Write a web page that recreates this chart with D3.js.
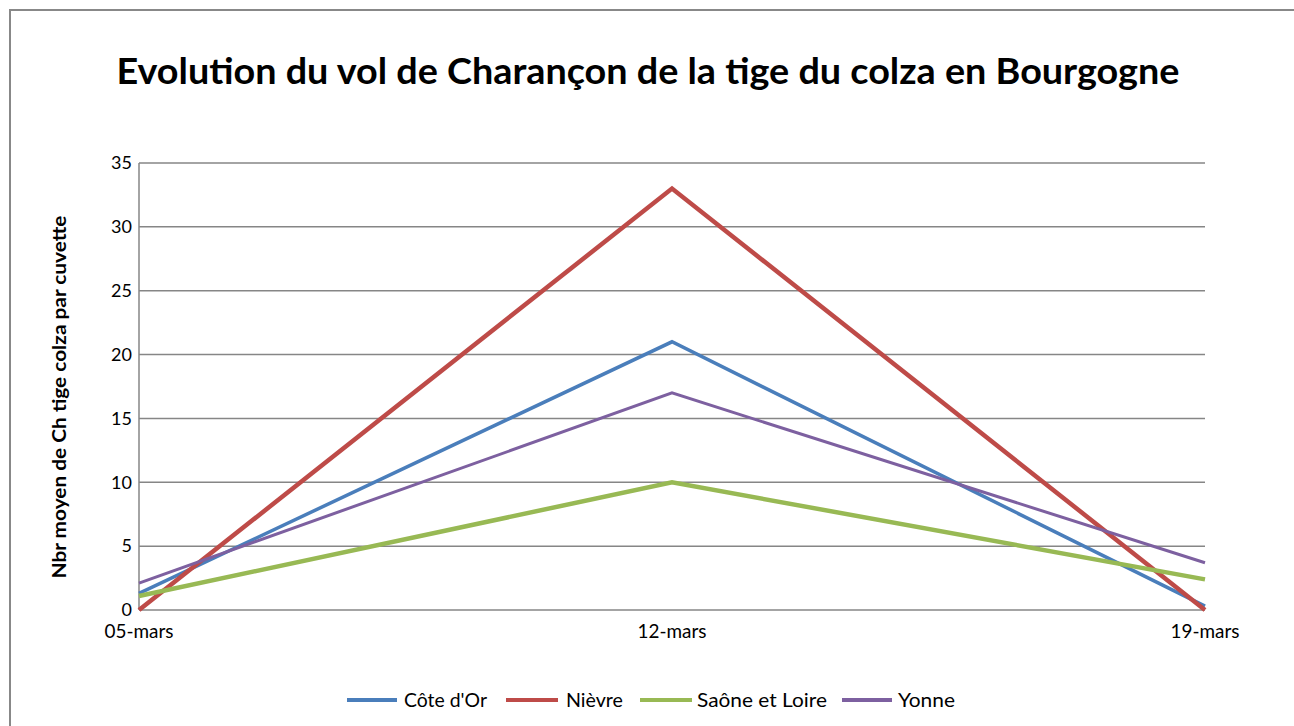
<!DOCTYPE html>
<html><head><meta charset="utf-8">
<script src="https://cdn.jsdelivr.net/npm/d3@7"></script>
<style>body{margin:0;background:#fff}svg{display:block}</style>
</head><body>
<svg id="c" width="1294" height="726"></svg>
<script>
const categories = ["05-mars", "12-mars", "19-mars"];
const seriesNames = ["Côte d'Or", "Nièvre", "Saône et Loire", "Yonne"];
const coteDOr = [1.3, 21, 0.3];
const nievre = [0, 33, 0];
const saone = [1.1, 10, 2.4];
const yonne = [2.1, 17, 3.7];
const yTicks = [0, 5, 10, 15, 20, 25, 30, 35];
const colors = ["#4A7EBB", "#BE4B48", "#98B954", "#7D60A0"];
const widths = [3.5, 4.5, 4.5, 3];

const series = [coteDOr, nievre, saone, yonne].map((v, i) => ({name: seriesNames[i], values: v, color: colors[i], w: widths[i]}));

const svg = d3.select("#c");
const font = "Lato, 'Open Sans', sans-serif";
svg.append("rect").attr("x", 10).attr("y", 10).attr("width", 1300).attr("height", 730)
  .attr("fill", "#fff").attr("stroke", "#888").attr("stroke-width", 2);

svg.append("text").attr("x", 648).attr("y", 84).attr("text-anchor", "middle")
  .attr("font-family", font).attr("font-weight", "bold").attr("font-size", 37)
  .attr("textLength", 1063).attr("lengthAdjust", "spacingAndGlyphs")
  .attr("fill", "#000").text("Evolution du vol de Charançon de la tige du colza en Bourgogne");

const x = d3.scalePoint().domain(categories).range([139, 1205]);
const y = d3.scaleLinear().domain([0, 35]).range([610, 163]);

const g = svg.append("g");
g.selectAll("line.grid").data(yTicks).join("line")
  .attr("x1", 139).attr("x2", 1205).attr("y1", d => y(d)).attr("y2", d => y(d))
  .attr("stroke", "#868686").attr("stroke-width", 1.5);
g.append("line").attr("x1", 139).attr("x2", 139).attr("y1", y(35)).attr("y2", y(0))
  .attr("stroke", "#868686").attr("stroke-width", 1.5);

g.selectAll("text.yt").data(yTicks).join("text")
  .attr("x", 132).attr("y", d => y(d)).attr("dy", "0.35em").attr("text-anchor", "end")
  .attr("font-family", font).attr("font-size", 18).attr("fill", "#000").text(d => d);
g.selectAll("text.xt").data(categories).join("text")
  .attr("x", d => x(d)).attr("y", 631).attr("dy", "0.35em").attr("text-anchor", "middle")
  .attr("font-family", font).attr("font-size", 19).attr("textLength", 69).attr("lengthAdjust", "spacingAndGlyphs")
  .attr("fill", "#000").text(d => d);

svg.append("text").attr("transform", "translate(66,397) rotate(-90)").attr("text-anchor", "middle")
  .attr("font-family", font).attr("font-weight", "bold").attr("font-size", 19)
  .attr("textLength", 363).attr("lengthAdjust", "spacingAndGlyphs").attr("fill", "#000")
  .text("Nbr moyen de Ch tige colza par cuvette");

const line = d3.line().x((d, i) => x(categories[i])).y(d => y(d));
svg.selectAll("path.s").data(series).join("path")
  .attr("d", d => line(d.values)).attr("fill", "none")
  .attr("stroke", d => d.color).attr("stroke-width", d => d.w).attr("stroke-linejoin", "miter");

const legLine = [[347, 397], [506, 558], [640, 692], [842, 892]];
const legText = [[404, 83], [566, 57], [697, 130], [898, 57]];
const lg = svg.selectAll("g.leg").data(series).join("g");
lg.append("line").attr("x1", (d, i) => legLine[i][0]).attr("x2", (d, i) => legLine[i][1])
  .attr("y1", 700).attr("y2", 700).attr("stroke", d => d.color).attr("stroke-width", 4);
lg.append("text").attr("x", (d, i) => legText[i][0]).attr("y", 700).attr("dy", "0.35em")
  .attr("textLength", (d, i) => legText[i][1]).attr("lengthAdjust", "spacingAndGlyphs")
  .attr("font-family", font).attr("font-size", 19)
  .attr("fill", "#000").text(d => d.name);
</script>
</body></html>
